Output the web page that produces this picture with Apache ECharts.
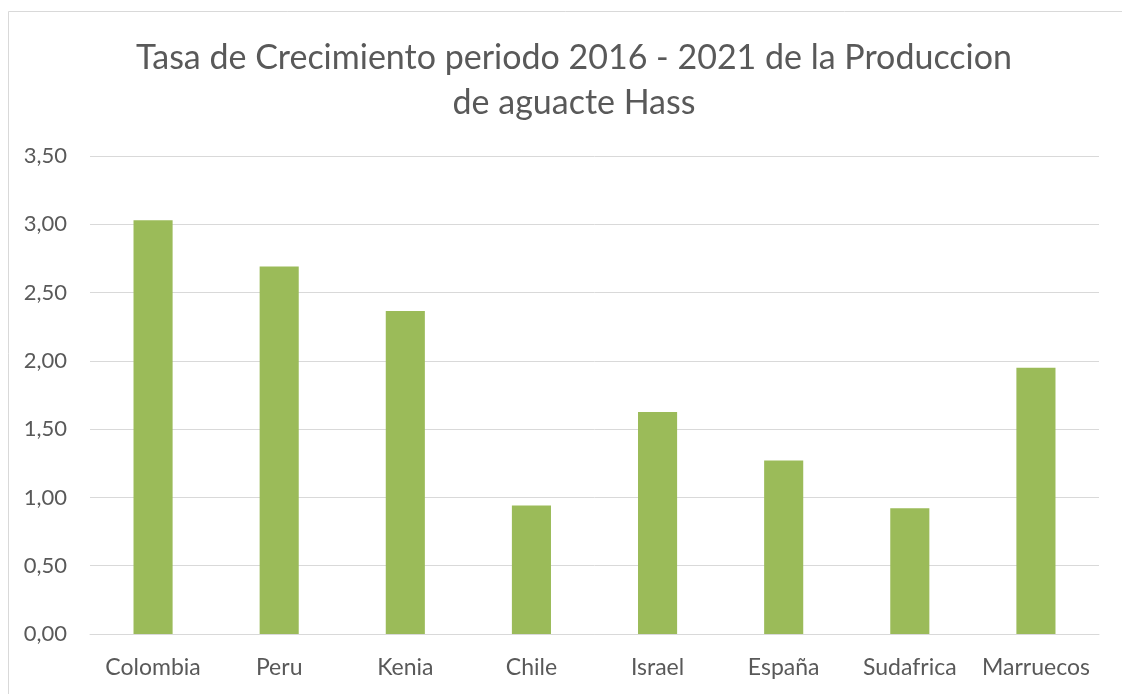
<!DOCTYPE html>
<html>
<head>
<meta charset="utf-8">
<script src="https://cdn.jsdelivr.net/npm/echarts@6/dist/echarts.min.js"></script>
<style>
  html, body { margin: 0; padding: 0; background: #fff; }
  #chart { width: 1122px; height: 694px; }
</style>
</head>
<body>
<div id="chart"></div>
<script>
// datos
const paises = ['Colombia', 'Peru', 'Kenia', 'Chile', 'Israel', 'España', 'Sudafrica', 'Marruecos'];
const tasa = [3.03, 2.69, 2.365, 0.94, 1.625, 1.27, 0.92, 1.95];

const textColor = '#595959';
const fontName = 'Lato';

const chart = echarts.init(document.getElementById('chart'));

const option = {
  backgroundColor: '#fff',
  animation: false,
  title: {
    text: 'Tasa de Crecimiento periodo 2016 - 2021 de la Produccion\nde aguacte Hass',
    left: 569,
    textAlign: 'center',
    top: 31,
    textStyle: {
      color: textColor,
      fontFamily: fontName,
      fontWeight: 'normal',
      fontSize: 34,
      lineHeight: 45
    }
  },
  graphic: [{
    type: 'rect',
    shape: { x: 8.5, y: 11.5, width: 1130, height: 700 },
    style: { fill: 'none', stroke: '#d9d9d9', lineWidth: 1 },
    silent: true
  }],
  grid: { left: 90, right: 23, top: 156, bottom: 60 },
  xAxis: {
    type: 'category',
    data: paises,
    axisTick: { show: false },
    axisLine: { lineStyle: { color: '#d9d9d9', width: 1 } },
    axisLabel: {
      interval: 0,
      hideOverlap: false,
      color: textColor,
      fontFamily: fontName,
      fontSize: 23,
      margin: 22
    }
  },
  yAxis: {
    type: 'value',
    min: 0,
    max: 3.5,
    interval: 0.5,
    axisLine: { show: false },
    axisTick: { show: false },
    splitLine: { lineStyle: { color: '#d9d9d9', width: 1 } },
    axisLabel: {
      color: textColor,
      fontFamily: fontName,
      fontSize: 22,
      margin: 23,
      formatter: function (v) { return v.toFixed(2).replace('.', ','); }
    }
  },
  series: [{
    type: 'bar',
    data: tasa,
    barWidth: '31%',
    itemStyle: { color: '#9bbb59' }
  }]
};

chart.setOption(option);
</script>
</body>
</html>
